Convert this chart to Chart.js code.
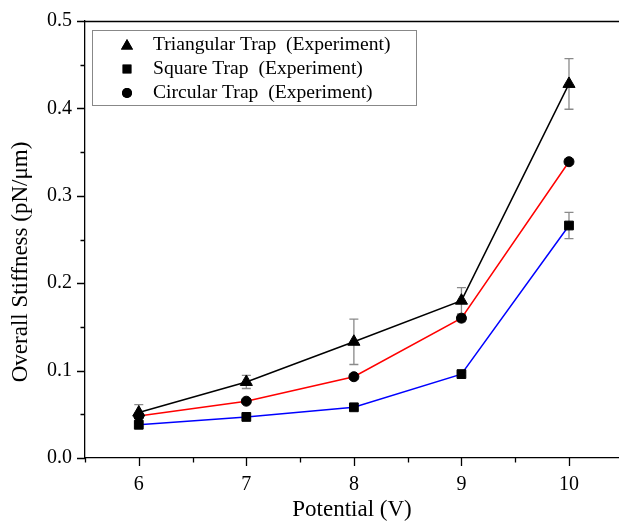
<!DOCTYPE html>
<html>
<head>
<meta charset="utf-8">
<script src="https://cdn.jsdelivr.net/npm/chart.js@4.4.0/dist/chart.umd.min.js"></script>
<style>
  body { margin: 0; background: #fff; }
  canvas { display: block; }
</style>
</head>
<body>
<canvas id="stiffnessChart" width="619" height="524"></canvas>
<script>
const potentials = [6, 7, 8, 9, 10];
const triangularStiffness = [0.052, 0.087, 0.133, 0.180, 0.428];
const triangularError = [0.009, 0.0075, 0.026, 0.015, 0.029];
const squareStiffness = [0.038, 0.047, 0.058, 0.096, 0.266];
const squareError = [0.002, 0.002, 0.002, 0.002, 0.015];
const circularStiffness = [0.048, 0.065, 0.093, 0.160, 0.339];
const circularError = [0.002, 0.002, 0.003, 0.004, 0.003];

const xTicks = [6, 7, 8, 9, 10];
const xMinorTicks = [5.5, 6.5, 7.5, 8.5, 9.5];
const yTicks = [0.0, 0.1, 0.2, 0.3, 0.4, 0.5];
const yMinorTicks = [0.05, 0.15, 0.25, 0.35, 0.45];

const legendLabels = [
  'Triangular Trap  (Experiment)',
  'Square Trap  (Experiment)',
  'Circular Trap  (Experiment)'
];
const xTitle = 'Potential (V)';
const yTitle = 'Overall Stiffness (pN/\u03bcm)';

const serif = '"Liberation Serif", "Times New Roman", serif';

function points(ys) {
  return potentials.map((x, i) => ({ x: x, y: ys[i] }));
}

// error bars behind the markers
const errorBars = {
  id: 'errorBars',
  beforeDatasetsDraw(chart) {
    const { ctx, scales: { x, y } } = chart;
    ctx.save();
    ctx.strokeStyle = '#8a8a8a';
    ctx.lineWidth = 1.3;
    chart.data.datasets.forEach(ds => {
      ds.data.forEach((p, i) => {
        const e = ds.errors[i];
        const px = x.getPixelForValue(p.x);
        const top = y.getPixelForValue(p.y + e);
        const bot = y.getPixelForValue(p.y - e);
        ctx.beginPath();
        ctx.moveTo(px, top); ctx.lineTo(px, bot);
        ctx.moveTo(px - 4.5, top); ctx.lineTo(px + 4.5, top);
        ctx.moveTo(px - 4.5, bot); ctx.lineTo(px + 4.5, bot);
        ctx.stroke();
      });
    });
    ctx.restore();
  }
};

// ticks, frame, titles and legend
const decorations = {
  id: 'decorations',
  afterDraw(chart) {
    const { ctx, chartArea: area, scales: { x, y } } = chart;
    ctx.save();
    ctx.strokeStyle = '#000';
    ctx.lineWidth = 1.3;
    ctx.beginPath();
    ctx.moveTo(area.left, area.top + 0.5);
    ctx.lineTo(area.right, area.top + 0.5);
    xTicks.forEach(v => {
      const px = Math.round(x.getPixelForValue(v)) + 0.5;
      ctx.moveTo(px, area.bottom); ctx.lineTo(px, area.bottom + 8);
    });
    xMinorTicks.forEach(v => {
      const px = Math.round(x.getPixelForValue(v)) + 0.5;
      ctx.moveTo(px, area.bottom); ctx.lineTo(px, area.bottom + 4.5);
    });
    yTicks.forEach(v => {
      const py = Math.round(y.getPixelForValue(v)) + 0.5;
      ctx.moveTo(area.left, py); ctx.lineTo(area.left - 8, py);
    });
    yMinorTicks.forEach(v => {
      const py = Math.round(y.getPixelForValue(v)) + 0.5;
      ctx.moveTo(area.left, py); ctx.lineTo(area.left - 4.5, py);
    });
    ctx.stroke();

    ctx.fillStyle = '#000';
    ctx.font = '23px ' + serif;
    ctx.textAlign = 'center';
    ctx.textBaseline = 'middle';
    ctx.fillText(xTitle, (area.left + area.right) / 2, 510);
    ctx.save();
    ctx.translate(21, 262);
    ctx.rotate(-Math.PI / 2);
    ctx.fillText(yTitle, 0, 0);
    ctx.restore();

    // legend
    ctx.strokeStyle = '#888';
    ctx.lineWidth = 1;
    ctx.strokeRect(92.5, 30.5, 324, 75);
    const styles = ['triangle', 'rect', 'circle'];
    const radii = [7, 6.2, 5];
    const rows = [45, 69, 93];
    ctx.font = '19.6px ' + serif;
    ctx.textAlign = 'left';
    legendLabels.forEach((label, i) => {
      ctx.fillStyle = '#000';
      Chart.helpers.drawPoint(ctx, { pointStyle: styles[i], radius: radii[i], rotation: 0, borderWidth: 0 }, 127, rows[i] + (i === 0 ? 1 : 0));
      ctx.fill();
      ctx.fillText(label, 153, rows[i]);
    });
    ctx.restore();
  }
};

const lineStyle = (color, style, radius) => ({
  borderColor: color,
  borderWidth: 1.5,
  pointStyle: style,
  pointRadius: radius,
  pointHoverRadius: radius,
  pointBackgroundColor: '#000',
  pointBorderColor: '#000',
  pointBorderWidth: 1,
  tension: 0,
  fill: false
});

function noPadding(scale) {
  scale.paddingLeft = 0;
  scale.paddingRight = 0;
  scale.paddingTop = 0;
  scale.paddingBottom = 0;
}

new Chart(document.getElementById('stiffnessChart'), {
  type: 'line',
  data: {
    datasets: [
      Object.assign({ label: legendLabels[0], data: points(triangularStiffness), errors: triangularError }, lineStyle('#000000', 'triangle', 7)),
      Object.assign({ label: legendLabels[2], data: points(circularStiffness), errors: circularError }, lineStyle('#ff0000', 'circle', 5)),
      Object.assign({ label: legendLabels[1], data: points(squareStiffness), errors: squareError }, lineStyle('#0000ff', 'rect', 6.2))
    ]
  },
  options: {
    responsive: false,
    animation: false,
    layout: { autoPadding: false, padding: { top: 21, right: 0, left: 0, bottom: 0 } },
    plugins: { legend: { display: false }, tooltip: { enabled: false } },
    scales: {
      x: {
        type: 'linear',
        min: 5.5,
        max: 10.465,
        afterFit(scale) { scale.height = 66; noPadding(scale); },
        afterBuildTicks(scale) { scale.ticks = xTicks.map(v => ({ value: v })); },
        grid: { display: false, drawTicks: false },
        border: { display: true, color: '#000', width: 1.3 },
        ticks: { padding: 15, color: '#000', font: { family: serif, size: 20 }, callback: v => String(v) }
      },
      y: {
        min: 0,
        max: 0.5,
        afterFit(scale) { scale.width = 85; noPadding(scale); },
        afterBuildTicks(scale) { scale.ticks = yTicks.map(v => ({ value: v })); },
        grid: { display: false, drawTicks: false },
        border: { display: true, color: '#000', width: 1.3 },
        ticks: { padding: 13, color: '#000', font: { family: serif, size: 20 }, callback: v => v.toFixed(1) }
      }
    }
  },
  plugins: [errorBars, decorations]
});
</script>
</body>
</html>
